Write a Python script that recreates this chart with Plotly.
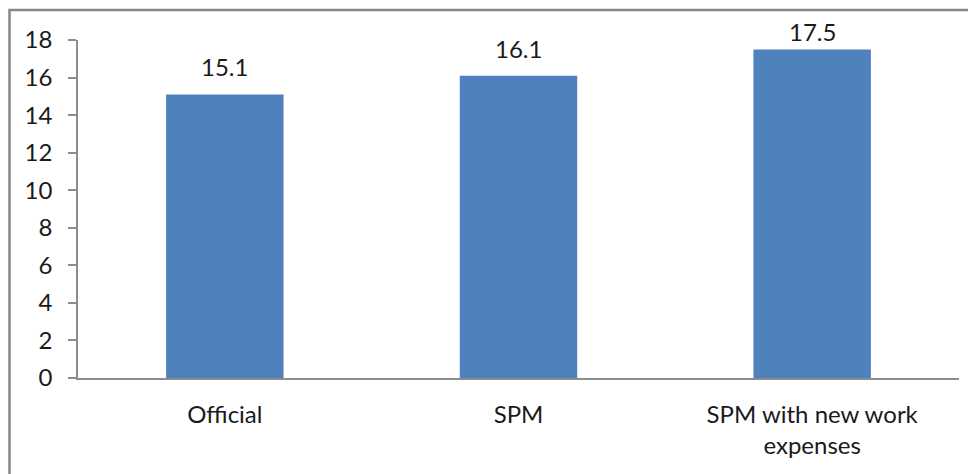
import plotly.graph_objects as go

categories = ["Official", "SPM", "SPM with new work<br>expenses"]
values = [15.1, 16.1, 17.5]
value_labels = ["15.1", "16.1", "17.5"]
y_ticks = [0, 2, 4, 6, 8, 10, 12, 14, 16, 18]
Y_MAX = 18

# page body has an 8px margin, so the figure is drawn offset by 8px
OFF = 8
W, H = 976 - OFF, 474 - OFF
L, R, T, B = 78 - OFF, 17, 40 - OFF, 96
pw, ph = W - L - R, H - T - B
FS = 24
TXT = "#1a1a1a"
px_per_unit = ph / Y_MAX

fig = go.Figure(go.Bar(
    x=categories, y=values,
    marker=dict(color="#4F81BD", line=dict(width=0)), width=0.4,
))

# labels sit above the bars, but are kept from rising too far above the plot top
annotations = [
    dict(x=c, y=v, text=t, xref="x", yref="y", showarrow=False,
         yanchor="bottom",
         yshift=min(11, (Y_MAX - v) * px_per_unit - 8.4),
         font=dict(size=FS, color=TXT))
    for c, v, t in zip(categories, values, value_labels)
]

fig.update_layout(
    width=W, height=H, margin=dict(l=L, r=R, t=T, b=B, pad=0),
    paper_bgcolor="white", plot_bgcolor="white",
    font=dict(family="Lato, Open Sans, sans-serif", size=FS, color=TXT),
    showlegend=False,
    xaxis=dict(showline=True, linecolor="#8c8c8c", linewidth=1.5, ticks="",
               showgrid=False, zeroline=False, tickfont=dict(size=FS),
               ticklabelstandoff=14),
    yaxis=dict(range=[0, Y_MAX], tickvals=y_ticks, showline=True, linecolor="#8c8c8c",
               linewidth=1.5, ticks="outside", ticklen=8, tickcolor="#8c8c8c",
               tickwidth=1.5, showgrid=False, zeroline=False, tickfont=dict(size=FS),
               ticklabelstandoff=11),
    annotations=annotations,
    shapes=[dict(type="rect", xref="paper", yref="paper",
                 x0=(1.5 - L) / pw, x1=(W + 10 - L) / pw,
                 y0=-(B + 10) / ph, y1=1 + (T - 2) / ph,
                 line=dict(color="#868686", width=2.5), fillcolor="rgba(0,0,0,0)",
                 layer="below")],
)

fig.write_html("out.html")
